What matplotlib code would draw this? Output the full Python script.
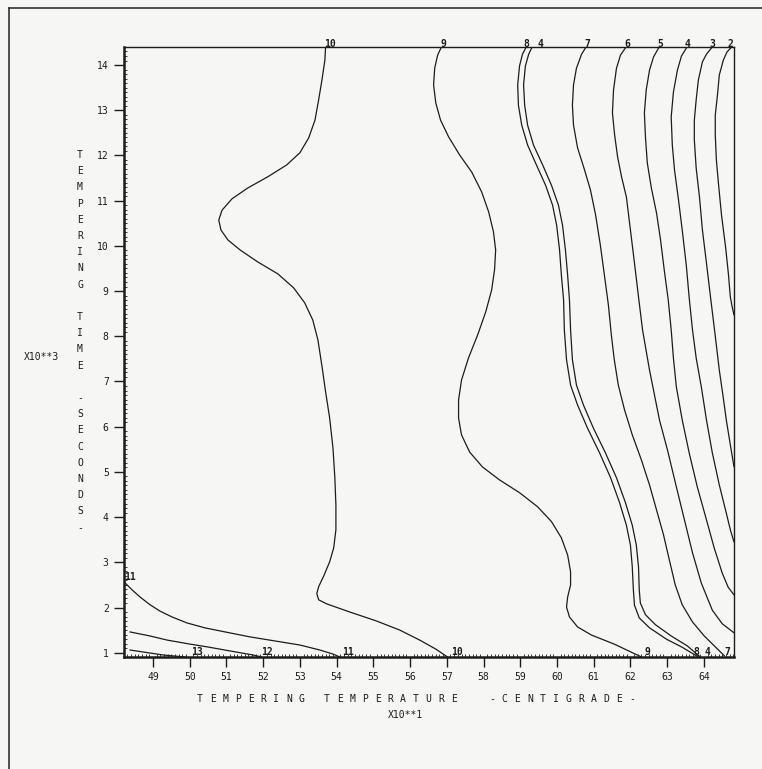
import numpy as np
import matplotlib
matplotlib.use("Agg")
import matplotlib.pyplot as plt
from matplotlib.lines import Line2D

# ---------------- data (temperature x10 C, time x1000 s) ----------------
c10_x = [53.70, 53.68, 53.60, 53.51, 53.41, 53.24, 53.00, 52.64, 52.13, 51.58, 51.15, 50.88, 50.79,
         50.85, 51.04, 51.37, 51.86, 52.40, 52.83, 53.13, 53.35, 53.49, 53.60, 53.70, 53.81, 53.90,
         53.95, 53.98, 53.98, 53.92, 53.81, 53.65, 53.51, 53.46, 53.51, 53.73, 54.36, 55.09, 55.72,
         56.26, 56.70, 57.02]
c10_y = [14.41, 14.11, 13.67, 13.23, 12.78, 12.39, 12.06, 11.79, 11.53, 11.28, 11.04, 10.79, 10.57,
         10.35, 10.13, 9.91, 9.64, 9.38, 9.07, 8.74, 8.36, 7.92, 7.34, 6.77, 6.19, 5.53,
         4.89, 4.27, 3.72, 3.32, 3.01, 2.70, 2.46, 2.31, 2.17, 2.08, 1.90, 1.70, 1.50,
         1.28, 1.08, 0.905]

c9_x = [56.86, 56.75, 56.67, 56.64, 56.70, 56.83, 57.05, 57.35, 57.68, 57.95, 58.14, 58.27, 58.33,
        58.30, 58.22, 58.06, 57.84, 57.59, 57.40, 57.32, 57.32, 57.40, 57.62, 57.97, 58.44, 58.98,
        59.47, 59.85, 60.12, 60.29, 60.37, 60.37, 60.29, 60.26, 60.34, 60.56, 60.94, 61.56, 62.30]
c9_y = [14.41, 14.22, 13.93, 13.56, 13.16, 12.78, 12.41, 12.01, 11.63, 11.19, 10.75, 10.31, 9.91,
        9.47, 9.02, 8.54, 8.03, 7.52, 7.03, 6.59, 6.19, 5.82, 5.44, 5.11, 4.82, 4.54,
        4.23, 3.90, 3.54, 3.16, 2.79, 2.50, 2.23, 2.01, 1.79, 1.57, 1.39, 1.19, 0.905]

c8a_x = [59.17, 59.06, 58.98, 58.93, 58.95, 59.04, 59.20, 59.44, 59.69, 59.88, 59.99, 60.07, 60.12,
         60.18, 60.20, 60.26, 60.37, 60.56, 60.83, 61.16, 61.46, 61.70, 61.89, 62.00, 62.05, 62.08,
         62.11, 62.24, 62.52, 62.98, 63.41, 63.85]
c8a_y = [14.41, 14.24, 13.98, 13.56, 13.11, 12.67, 12.23, 11.79, 11.34, 10.90, 10.46, 9.91, 9.35,
         8.80, 8.14, 7.48, 6.92, 6.48, 5.97, 5.42, 4.87, 4.33, 3.82, 3.38, 2.90, 2.39,
         2.05, 1.77, 1.55, 1.30, 1.12, 0.905]

c8b_x = [59.33, 59.23, 59.14, 59.09, 59.12, 59.20, 59.36, 59.61, 59.85, 60.04, 60.15, 60.23, 60.29,
         60.34, 60.37, 60.42, 60.53, 60.72, 60.99, 61.32, 61.62, 61.86, 62.05, 62.16, 62.22, 62.24,
         62.27, 62.41, 62.68, 63.11, 63.55, 63.90]
c8b_y = [14.41, 14.24, 13.98, 13.56, 13.11, 12.67, 12.23, 11.79, 11.34, 10.90, 10.46, 9.91, 9.35,
         8.80, 8.14, 7.48, 6.92, 6.48, 5.97, 5.42, 4.87, 4.33, 3.82, 3.38, 2.90, 2.39,
         2.10, 1.84, 1.62, 1.37, 1.15, 0.905]

c7_x = [60.80, 60.67, 60.53, 60.45, 60.42, 60.45, 60.56, 60.75, 60.91, 61.05, 61.18, 61.29, 61.40,
        61.48, 61.56, 61.67, 61.84, 62.05, 62.30, 62.52, 62.71, 62.90, 63.06, 63.22, 63.41, 63.69,
        64.01, 64.31, 64.56]
c7_y = [14.41, 14.24, 13.93, 13.56, 13.11, 12.67, 12.17, 11.68, 11.24, 10.69, 10.02, 9.36, 8.69,
        8.03, 7.48, 6.92, 6.37, 5.82, 5.26, 4.71, 4.16, 3.61, 3.05, 2.50, 2.06, 1.68,
        1.37, 1.13, 0.93]

c6_x = [61.89, 61.73, 61.62, 61.54, 61.51, 61.57, 61.65, 61.76, 61.89, 62.00, 62.11, 62.22, 62.33,
        62.52, 62.79, 63.01, 63.25, 63.47, 63.69, 63.93, 64.23, 64.50, 64.82]
c6_y = [14.41, 14.22, 13.93, 13.45, 12.94, 12.45, 11.97, 11.52, 11.08, 10.35, 9.62, 8.87, 8.14,
        7.25, 6.15, 5.48, 4.67, 3.94, 3.21, 2.54, 1.94, 1.64, 1.44]

c5_x = [62.79, 62.63, 62.52, 62.43, 62.38, 62.41, 62.46, 62.57, 62.71, 62.82, 62.92, 63.03, 63.11,
        63.17, 63.25, 63.41, 63.60, 63.82, 64.07, 64.28, 64.50, 64.66, 64.82]
c5_y = [14.41, 14.18, 13.89, 13.45, 12.94, 12.39, 11.83, 11.28, 10.73, 10.13, 9.47, 8.80, 8.14,
        7.52, 6.88, 6.15, 5.42, 4.67, 3.94, 3.32, 2.76, 2.45, 2.28]

c4_x = [63.55, 63.39, 63.28, 63.17, 63.11, 63.14, 63.20, 63.31, 63.41, 63.52, 63.60, 63.69, 63.79,
        63.93, 64.07, 64.23, 64.42, 64.61, 64.72, 64.82]
c4_y = [14.41, 14.20, 13.89, 13.40, 12.85, 12.23, 11.68, 11.01, 10.35, 9.58, 8.85, 8.14, 7.52,
        6.88, 6.15, 5.42, 4.71, 4.09, 3.72, 3.45]

c3_x = [64.23, 64.07, 63.96, 63.85, 63.79, 63.74, 63.74, 63.79, 63.88, 63.96, 64.07, 64.18, 64.29,
        64.42, 64.53, 64.61, 64.72, 64.82]
c3_y = [14.40, 14.24, 14.07, 13.67, 13.23, 12.78, 12.34, 11.72, 11.08, 10.35, 9.62, 8.87, 8.14,
        7.25, 6.63, 6.15, 5.60, 5.11]

c2_x = [64.77, 64.63, 64.53, 64.42, 64.37, 64.31, 64.31, 64.34, 64.40, 64.48, 64.59, 64.67, 64.72,
        64.77, 64.82]
c2_y = [14.41, 14.29, 14.11, 13.78, 13.34, 12.89, 12.45, 11.90, 11.35, 10.68, 9.98, 9.36, 8.87,
        8.65, 8.47]

c11_x = [48.22, 48.43, 48.65, 48.92, 49.19, 49.52, 49.92, 50.41, 50.96, 51.64, 52.32, 53.00, 53.54,
         53.90, 54.09]
c11_y = [2.56, 2.39, 2.23, 2.06, 1.92, 1.79, 1.66, 1.55, 1.46, 1.35, 1.26, 1.17, 1.06,
         0.97, 0.905]

c12_x = [48.37, 48.92, 49.38, 50.01, 50.47, 51.09, 51.72, 51.96]
c12_y = [1.46, 1.37, 1.28, 1.19, 1.13, 1.04, 0.95, 0.905]

c13_x = [48.37, 49.27, 49.87]
c13_y = [1.06, 0.95, 0.905]

# contour labels
top_labels = [("10", 53.81), ("9", 56.91), ("8", 59.17), ("4", 59.55), ("7", 60.83),
              ("6", 61.92), ("5", 62.82), ("4", 63.55), ("3", 64.23), ("2", 64.72)]
bottom_labels = [("13", 50.20), ("12", 52.10), ("11", 54.30), ("10", 57.27), ("9", 62.46),
                 ("8", 63.79), ("4", 64.09), ("7", 64.64)]
left_labels = [("11", 48.37, 2.67)]

x_ticks = list(range(49, 65))
y_ticks = list(range(1, 15))
x_title = "TEMPERING TEMPERATURE  -CENTIGRADE-"
y_title = "TEMPERING TIME -SECONDS-"

# ---------------- figure ----------------
W, H = 762, 769
bg = "#f6f6f4"
ink = "#1c1c1c"
fig = plt.figure(figsize=(W / 100, H / 100), dpi=100, facecolor=bg)

# outer frame (left and top borders of the scanned page)
fig.add_artist(Line2D([9 / W, 9 / W], [0, 1 - 8 / H], transform=fig.transFigure, color="#333", lw=1.2))
fig.add_artist(Line2D([9 / W, 1], [1 - 8 / H, 1 - 8 / H], transform=fig.transFigure, color="#333", lw=1.2))

L, R, T, B = 124, 734, 46.5, 657
ax = fig.add_axes([L / W, 1 - B / H, (R - L) / W, (B - T) / H])
ax.set_facecolor(bg)

for xs, ys in [(c10_x, c10_y), (c9_x, c9_y), (c8a_x, c8a_y), (c8b_x, c8b_y), (c7_x, c7_y),
               (c6_x, c6_y), (c5_x, c5_y), (c4_x, c4_y), (c3_x, c3_y), (c2_x, c2_y),
               (c11_x, c11_y), (c12_x, c12_y), (c13_x, c13_y)]:
    ax.plot(xs, ys, color=ink, lw=0.9, solid_joinstyle="round", solid_capstyle="round")

ax.set_xlim(48.21, 64.82)
ax.set_ylim(0.905, 14.41)

mono = "DejaVu Sans Mono"
ax.set_xticks(x_ticks)
ax.set_xticklabels([str(v) for v in x_ticks], fontfamily=mono)
ax.set_yticks(y_ticks)
ax.set_yticklabels([str(v) for v in y_ticks], fontfamily=mono)
ax.set_xticks(np.arange(48.3, 64.81, 0.1), minor=True)
ax.set_yticks(np.arange(1.0, 14.41, 0.1), minor=True)
ax.tick_params(which="major", direction="out", length=7, width=1.0, color=ink,
               labelsize=7, labelcolor=ink, pad=4)
ax.tick_params(which="minor", direction="in", length=2.5, width=0.6, color=ink)
ax.tick_params(top=False, right=False)

for s in ["left", "bottom"]:
    ax.spines[s].set_linewidth(1.8)
    ax.spines[s].set_color(ink)
for s in ["top", "right"]:
    ax.spines[s].set_linewidth(1.0)
    ax.spines[s].set_color(ink)

for txt, x in top_labels:
    ax.text(x, 14.41 + 0.06, txt, ha="center", va="center", fontsize=7, family=mono,
            color=ink, fontweight="bold")
for txt, x in bottom_labels:
    ax.text(x, 0.905, txt, ha="center", va="bottom", fontsize=7, family=mono, color=ink,
            fontweight="bold")
for txt, x, y in left_labels:
    ax.text(x, y, txt, ha="center", va="center", fontsize=7, family=mono, color=ink,
            fontweight="bold")

# axis titles (stacked / letter-spaced, as on the plotter output)
x0, dx, yx = 200, 12.7, 699
for i, ch in enumerate(x_title):
    fig.text((x0 + i * dx) / W, 1 - yx / H, ch, ha="center", va="center", fontsize=7,
             family=mono, color=ink)
fig.text(406 / W, 1 - 715 / H, "X10**1", ha="center", va="center", fontsize=7, family=mono, color=ink)

y0, dy, xy = 155, 16.2, 80
for i, ch in enumerate(y_title):
    fig.text(xy / W, 1 - (y0 + i * dy) / H, ch, ha="center", va="center", fontsize=7,
             family=mono, color=ink)
fig.text(42 / W, 1 - 357 / H, "X10**3", ha="center", va="center", fontsize=7, family=mono, color=ink)

fig.savefig("out.png", dpi=100, facecolor=bg)
